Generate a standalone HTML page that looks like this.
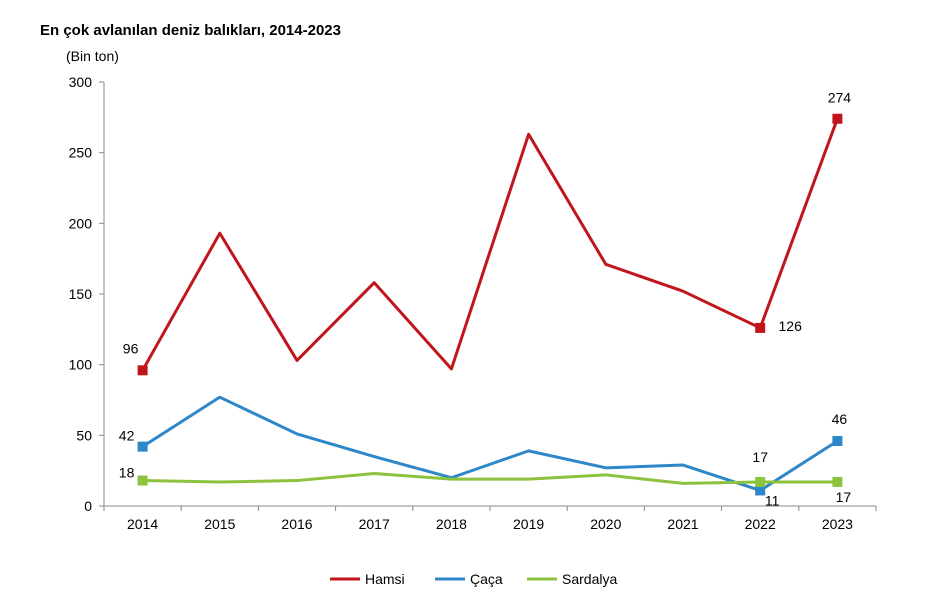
<!DOCTYPE html>
<html><head><meta charset="utf-8"><style>
body{margin:0;background:#fff;font-family:"Liberation Sans",sans-serif;}
svg text{font-family:"Liberation Sans",sans-serif;}
</style></head><body>
<svg id="chart" width="946" height="602">
<text x="40" y="35" font-size="15" font-weight="bold" fill="#000">En çok avlanılan deniz balıkları, 2014-2023</text>
<text x="66" y="61" font-size="14" fill="#000">(Bin ton)</text>
<g id="axes"></g>
<g id="series"></g>
<g id="legend"></g>
</svg>
<script>
const categories=["2014","2015","2016","2017","2018","2019","2020","2021","2022","2023"];
const hamsi=[96,193,103,158,97,263,171,152,126,274];
const caca=[42,77,51,35,20,39,27,29,11,46];
const sardalya=[18,17,18,23,19,19,22,16,17,17];
const yTicks=[0,50,100,150,200,250,300];
const NS="http://www.w3.org/2000/svg";
const x0=104,x1=876,yBase=506,yTop=82,yMax=300;
const step=(x1-x0)/categories.length;
function xs(i){return x0+step*(i+0.5);}
function ys(v){return yBase-(v/yMax)*(yBase-yTop);}
function mk(tag,attrs,parent){const e=document.createElementNS(NS,tag);for(const k in attrs)e.setAttribute(k,attrs[k]);parent.appendChild(e);return e;}
const axes=document.getElementById('axes');
let a=mk('line',{x1:x0,y1:yTop,x2:x0,y2:yBase,stroke:'#888'},axes);

a=mk('line',{x1:x0,y1:yBase,x2:x1,y2:yBase,stroke:'#888'},axes);

yTicks.forEach(t=>{
 const l=mk('line',{x1:x0-5,y1:ys(t),x2:x0,y2:ys(t),stroke:'#888'},axes);
 
 const tx=mk('text',{x:x0-12,y:ys(t)+5,'text-anchor':'end','font-size':14,fill:'#000'},axes);
 tx.textContent=t;
 
});
for(let i=0;i<=categories.length;i++){
 const l=mk('line',{x1:x0+step*i,y1:yBase,x2:x0+step*i,y2:yBase+5,stroke:'#888'},axes);
 
}
categories.forEach((c,i)=>{
 const tx=mk('text',{x:xs(i),y:yBase+23,'text-anchor':'middle','font-size':14,fill:'#000'},axes);
 tx.textContent=c;
 
});
const ser=document.getElementById('series');
const defs=[
 {name:'hamsi',data:hamsi,color:'#c0161b',labels:{0:[-12,-22],8:[30,-2],9:[2,-21]}},
 {name:'caca',data:caca,color:'#2e87c8',labels:{0:[-16,-11],8:[12,10],9:[2,-22]}},
 {name:'sardalya',data:sardalya,color:'#8dc23e',labels:{0:[-16,-8],8:[0,-25],9:[6,15]}}
];
defs.forEach(d=>{
 const pts=d.data.map((v,i)=>xs(i)+','+ys(v)).join(' ');
 const pl=mk('polyline',{points:pts,fill:'none',stroke:d.color,'stroke-width':3,'stroke-linejoin':'round'},ser);
 
 [0,8,9].forEach(i=>{
  const r=mk('rect',{x:xs(i)-5,y:ys(d.data[i])-5,width:10,height:10,fill:d.color},ser);
  
  const o=d.labels[i];
  const t=mk('text',{x:xs(i)+o[0],y:ys(d.data[i])+o[1]+5,'text-anchor':'middle','font-size':14,fill:'#000'},ser);
  t.textContent=d.data[i];
  
 });
});
const lg=document.getElementById('legend');
const legendItems=[['Hamsi','#c0161b',330],['Çaça','#2e87c8',435],['Sardalya','#8dc23e',527]];
legendItems.forEach(it=>{
 const g=mk('g',{},lg);
 
 mk('line',{x1:it[2],y1:579,x2:it[2]+30,y2:579,stroke:it[1],'stroke-width':3},g);
 const t=mk('text',{x:it[2]+35,y:584,'font-size':14,fill:'#000'},g);
 t.textContent=it[0];
});
</script>
</body></html>
